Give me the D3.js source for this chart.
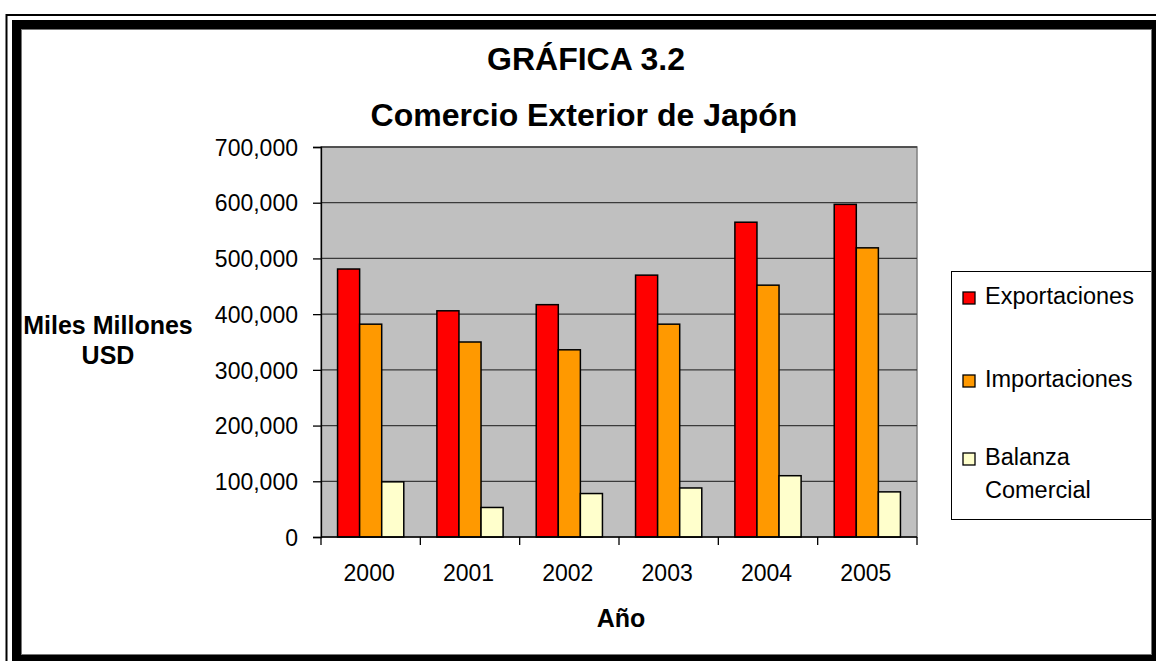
<!DOCTYPE html>
<meta charset="utf-8">
<script src="https://d3js.org/d3.v7.min.js"></script>
<style>
body { margin: 0; background: #fff; }
text { font-family: "Liberation Sans", Arial, sans-serif; fill: #000; }
</style>
<body>
<script>

// data
var years = ["2000", "2001", "2002", "2003", "2004", "2005"];
var exportaciones = [481000, 406000, 417000, 470000, 565000, 597000];
var importaciones = [382000, 350000, 336000, 382000, 452000, 519000];
var balanza = [99000, 53000, 78000, 88000, 110000, 81000];
var seriesNames = ["Exportaciones", "Importaciones", "Balanza Comercial"];
var seriesColors = ["#ff0000", "#ff9900", "#ffffcc"];
var yTicks = [0, 100000, 200000, 300000, 400000, 500000, 600000, 700000];

var series = [exportaciones, importaciones, balanza];

var width = 1156, height = 661;
var plot = {left: 321, right: 917, top: 147, bottom: 537};

var svg = d3.select("body").append("svg")
    .attr("width", width)
    .attr("height", height);

svg.append("rect").attr("width", width).attr("height", height).attr("fill", "#fff");

var x = d3.scaleBand().domain(years).range([plot.left, plot.right]).paddingInner(0).paddingOuter(0);
var y = d3.scaleLinear().domain([0, 700000]).range([plot.bottom, plot.top]);

// plot area
svg.append("rect")
    .attr("x", plot.left).attr("y", plot.top)
    .attr("width", plot.right - plot.left).attr("height", plot.bottom - plot.top)
    .attr("fill", "#c0c0c0")
    .attr("stroke", "#808080").attr("stroke-width", 1.5);

// gridlines
svg.append("g").selectAll("line")
    .data(yTicks.slice(1))
    .enter().append("line")
    .attr("x1", plot.left).attr("x2", plot.right)
    .attr("y1", function(d) { return y(d); })
    .attr("y2", function(d) { return y(d); })
    .attr("stroke", "#3a3a3a").attr("stroke-width", 1.3);

// bars, gap width 150%
var bw = x.bandwidth() / 4.5;
var groups = svg.append("g").selectAll("g")
    .data(years)
    .enter().append("g");

groups.each(function(yr, i) {
  var g = d3.select(this);
  series.forEach(function(s, k) {
    g.append("rect")
      .attr("x", x(yr) + bw * 0.75 + k * bw)
      .attr("y", y(s[i]))
      .attr("width", bw)
      .attr("height", y(0) - y(s[i]))
      .attr("fill", seriesColors[k])
      .attr("stroke", "#000")
      .attr("stroke-width", 1.5);
  });
});

// y axis
var yAxis = d3.axisLeft(y)
    .tickValues(yTicks)
    .tickSize(8)
    .tickPadding(15)
    .tickFormat(d3.format(","));
var ya = svg.append("g").attr("transform", "translate(" + plot.left + ",0)").call(yAxis);
ya.select(".domain").attr("stroke", "#000").attr("stroke-width", 1.3);
ya.selectAll(".tick line").attr("stroke", "#000").attr("stroke-width", 1.3);
ya.selectAll("text").attr("dy", "0.36em").style("font-size", "23px").style("font-family", "Liberation Sans, Arial, sans-serif");

// x axis: ticks between categories
var xa = svg.append("g").attr("transform", "translate(0," + plot.bottom + ")");
xa.append("line").attr("x1", plot.left).attr("x2", plot.right)
    .attr("stroke", "#000").attr("stroke-width", 1.3);
xa.selectAll("line.tk")
    .data(years.concat(["end"]))
    .enter().append("line")
    .attr("class", "tk")
    .attr("x1", function(d, i) { return plot.left + i * x.bandwidth(); })
    .attr("x2", function(d, i) { return plot.left + i * x.bandwidth(); })
    .attr("y1", 0).attr("y2", 8)
    .attr("stroke", "#000").attr("stroke-width", 1.3);
xa.selectAll("text")
    .data(years)
    .enter().append("text")
    .attr("x", function(d) { return x(d) + x.bandwidth() / 2 - 1.5; })
    .attr("y", 44)
    .attr("text-anchor", "middle")
    .style("font-size", "23px")
    .text(function(d) { return d; });

// titles
svg.append("text").attr("x", 586).attr("y", 70).attr("text-anchor", "middle")
    .style("font-size", "32px").style("font-weight", "bold").text("GRÁFICA 3.2");
svg.append("text").attr("x", 584).attr("y", 126).attr("text-anchor", "middle")
    .style("font-size", "32px").style("font-weight", "bold").text("Comercio Exterior de Japón");
svg.append("text").attr("x", 621).attr("y", 627).attr("text-anchor", "middle")
    .style("font-size", "25px").style("font-weight", "bold").text("Año");
svg.append("text").attr("x", 108).attr("y", 334).attr("text-anchor", "middle")
    .style("font-size", "25px").style("font-weight", "bold").text("Miles Millones");
svg.append("text").attr("x", 108).attr("y", 364).attr("text-anchor", "middle")
    .style("font-size", "25px").style("font-weight", "bold").text("USD");

// legend
var lg = svg.append("g");
lg.append("rect").attr("x", 951.5).attr("y", 271.5).attr("width", 220).attr("height", 248)
    .attr("fill", "#fff").attr("stroke", "#000").attr("stroke-width", 1);
var legendY = [304, 387, 465];
seriesNames.forEach(function(name, k) {
  lg.append("rect")
    .attr("x", 963).attr("y", legendY[k] - 12)
    .attr("width", 12).attr("height", 12)
    .attr("fill", seriesColors[k]).attr("stroke", "#000").attr("stroke-width", 1.3);
  var words = name.split(" ");
  words.forEach(function(w, j) {
    lg.append("text")
      .attr("x", 985).attr("y", legendY[k] + j * 33)
      .style("font-size", "23.5px")
      .text(w);
  });
});

// double frame around the chart, drawn last so it sits on top
var frame = svg.append("g");
frame.append("rect").attr("x", 6.5).attr("y", 15).attr("width", 1200).attr("height", 700)
    .attr("fill", "none").attr("stroke", "#000").attr("stroke-width", 2);
frame.append("rect").attr("x", 16.5).attr("y", 24.5).attr("width", 1140).attr("height", 635)
    .attr("fill", "none").attr("stroke", "#000").attr("stroke-width", 9);
frame.append("rect").attr("x", 21.5).attr("y", 29.5).attr("width", 1130).attr("height", 625)
    .attr("fill", "none").attr("stroke", "#777").attr("stroke-width", 1);
frame.append("rect").attr("x", 1152).attr("y", 20).attr("width", 10).attr("height", 650).attr("fill", "#000");

</script>
</body>
